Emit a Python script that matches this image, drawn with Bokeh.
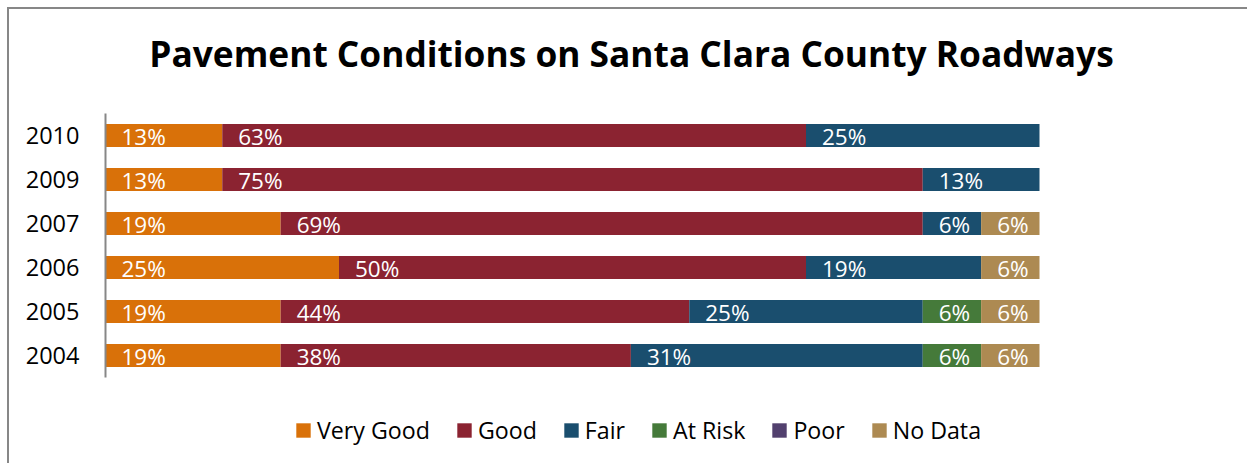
import math
from bokeh.plotting import figure
from bokeh.models import ColumnDataSource, Range1d, Label, FixedTicker
from bokeh.core.properties import value
from bokeh.embed import file_html
from bokeh.resources import INLINE

# ---- data ----
years = ["2004", "2005", "2006", "2007", "2009", "2010"]
categories = ["Very Good", "Good", "Fair", "At Risk", "Poor", "No Data"]
very_good = [18.75, 18.75, 25.0, 18.75, 12.5, 12.5]
good = [37.5, 43.75, 50.0, 68.75, 75.0, 62.5]
fair = [31.25, 25.0, 18.75, 6.25, 12.5, 25.0]
at_risk = [6.25, 6.25, 0.0, 0.0, 0.0, 0.0]
poor = [0.0, 0.0, 0.0, 0.0, 0.0, 0.0]
no_data = [6.25, 6.25, 6.25, 6.25, 0.0, 0.0]
colors = ["#D97109", "#8B2331", "#1A4E6E", "#457A3A", "#52406E", "#AD8A52"]
title_text = "Pavement Conditions on Santa Clara County Roadways"

series = [very_good, good, fair, at_risk, poor, no_data]
keys = ["vg", "good", "fair", "risk", "poor", "nodata"]
FONT = "Open Sans"

# ---- layout geometry (pixels) ----
W, H = 1240, 456
LEFT = 96            # axis panel width
BAR_TOP, BAR_BOTTOM = 104, 368   # category band in px from top
BAR_RIGHT = 1030     # px where 100% ends
n = len(years)
ppu_y = (BAR_BOTTOM - BAR_TOP) / n
ppu_x = (BAR_RIGHT - LEFT) / 100.0
y0 = 0.5 - (H - BAR_BOTTOM) / ppu_y
y1 = n + 0.5 + BAR_TOP / ppu_y
x1 = (W - LEFT) / ppu_x

ypos = list(range(1, n + 1))
data = {"y": ypos}
for k, s in zip(keys, series):
    data[k] = s
source = ColumnDataSource(data)

p = figure(
    width=W, height=H,
    x_range=Range1d(0, x1), y_range=Range1d(y0, y1),
    x_axis_location=None,
    toolbar_location=None,
    output_backend="svg",
    min_border_left=LEFT, min_border_right=0,
    min_border_top=0, min_border_bottom=0,
)
p.styles = {"margin-left": "7px", "margin-top": "7px",
            "border-left": "2px solid #878787", "border-top": "2px solid #878787"}
p.outline_line_color = None
p.grid.visible = False

p.hbar_stack(keys, y="y", height=0.52, color=colors, source=source,
             legend_label=categories, line_width=0)

# data labels
lx, ly, lt = [], [], []
for i in range(n):
    left = 0.0
    for s in series:
        v = s[i]
        if v > 0:
            lx.append(left)
            ly.append(ypos[i])
            lt.append(f"{math.floor(v + 0.5)}%")
        left += v
lsrc = ColumnDataSource(dict(x=lx, y=ly, t=lt))
p.text(x="x", y="y", text="t", source=lsrc, x_offset=16, y_offset=1,
       text_color="white", text_font=value(FONT), text_font_size="22.5px",
       text_baseline="middle", text_align="left")

# axis
ax = p.yaxis[0]
ax.ticker = FixedTicker(ticks=ypos)
ax.major_label_overrides = {yy: yr for yy, yr in zip(ypos, years)}
ax.bounds = (0.5, n + 0.5)
ax.axis_line_color = "#878787"
ax.axis_line_width = 2
ax.major_tick_line_color = None
ax.minor_tick_line_color = None
ax.major_label_standoff = 20
ax.major_label_text_font = FONT
ax.major_label_text_font_size = "23.5px"
ax.major_label_text_color = "black"

# title
p.add_layout(Label(x=526, y=413, x_units="screen", y_units="screen",
                   text=title_text, text_font=FONT, text_font_style="bold",
                   text_font_size="35.3px", text_align="center",
                   text_baseline="alphabetic", text_color="black"))

# legend
lg = p.legend[0]
lg.orientation = "horizontal"
lg.location = (189, 19)
lg.padding = 0
lg.margin = 0
lg.border_line_color = None
lg.background_fill_alpha = 0
lg.glyph_width = 18
lg.glyph_height = 18
lg.label_standoff = 5
lg.spacing = 25
lg.label_text_font = FONT
lg.label_text_font_size = "23.2px"
lg.label_text_color = "black"

open("out.html", "w").write(file_html(p, INLINE))
